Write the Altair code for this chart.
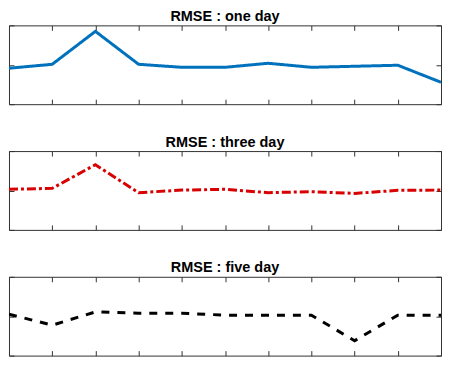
import altair as alt
import pandas as pd

x_vals = list(range(11))
one_day = [0.456, 0.506, 0.924, 0.506, 0.468, 0.468, 0.519, 0.468, 0.481, 0.494, 0.278]
three_day = [0.515, 0.527, 0.827, 0.472, 0.505, 0.515, 0.472, 0.485, 0.463, 0.502, 0.505]
five_day = [0.525, 0.386, 0.554, 0.538, 0.538, 0.513, 0.513, 0.513, 0.189, 0.513, 0.513]
titles = ["RMSE : one day", "RMSE : three day", "RMSE : five day"]
colors = ["#0072BD", "#D80000", "#000000"]
dashes = [[1, 0], [9, 3, 3, 3], [8, 8]]

W, H = 433, 79
TK = 5

def panel(vals, title, color, dash):
    df = pd.DataFrame({"x": x_vals, "y": vals})
    return alt.Chart(df, title=alt.Title(title)).mark_line(
        color=color, strokeWidth=3, strokeDash=dash, clip=True
    ).encode(
        x=alt.X("x:Q", scale=alt.Scale(domain=[0, 10], nice=False),
                axis=alt.Axis(values=x_vals, title=None, labels=False, ticks=False,
                              domain=False, grid=True, gridColor="#333", gridWidth=1,
                              gridOpacity=1, minExtent=0, maxExtent=0,
                              gridDash=[TK, H - 2 * TK, TK, 200])),
        y=alt.Y("y:Q", scale=alt.Scale(domain=[0, 1], nice=False),
                axis=alt.Axis(values=[0, 0.5, 1], title=None, labels=False, ticks=False,
                              domain=False, grid=True, gridColor="#333", gridWidth=1,
                              gridOpacity=1, minExtent=0, maxExtent=0,
                              gridDash=[TK, W - 2 * TK, TK, 500])),
    ).properties(width=W, height=H)

chart = alt.vconcat(
    *[panel(v, t, c, d) for v, t, c, d in zip([one_day, three_day, five_day], titles, colors, dashes)],
    spacing=29,
).properties(
    padding=0
).configure_view(
    stroke="#333", strokeWidth=1
).configure_title(
    font="Liberation Sans", fontSize=14.5, fontWeight="bold", color="#000", anchor="middle", offset=1
)

chart.save("out.html", embed_options={"renderer": "svg", "actions": False})
